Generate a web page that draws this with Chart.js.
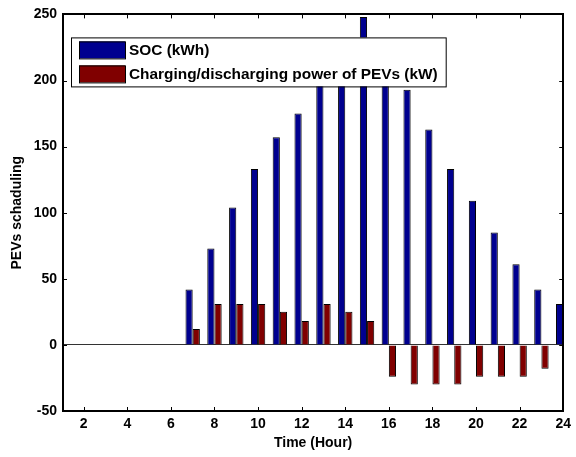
<!DOCTYPE html>
<html>
<head>
<meta charset="utf-8">
<script src="https://cdn.jsdelivr.net/npm/chart.js@4"></script>
<style>
    html, body { margin: 0; padding: 0; background: #ffffff; }
</style>
</head>
<body>
<canvas id="pevChart" width="576" height="457"></canvas>
<script>
    // hourly data
    const hours = [1, 2, 3, 4, 5, 6, 7, 8, 9, 10, 11, 12, 13, 14, 15, 16, 17, 18, 19, 20, 21, 22, 23, 24];
    const socValues = [0, 0, 0, 0, 0, 0, 42, 73, 104, 133, 157, 175, 206, 230, 248, 224, 193, 163, 133, 109, 85, 61, 42, 31];
    const powerValues = [0, 0, 0, 0, 0, 0, 12, 31, 31, 31, 25, 18, 31, 25, 18, -24, -30, -30, -30, -24, -24, -24, -18, -12];
    const seriesNames = ["SOC (kWh)", "Charging/discharging power of PEVs (kW)"];
    const xTicks = [2, 4, 6, 8, 10, 12, 14, 16, 18, 20, 22, 24];
    const yTicks = [-50, 0, 50, 100, 150, 200, 250];

    Chart.defaults.font.family = "'Liberation Sans', Arial, sans-serif";
    Chart.defaults.font.size = 14;
    Chart.defaults.font.weight = "bold";
    Chart.defaults.color = "#000000";

    // box round the plot, inward ticks and the legend inside the axes
    const framePlugin = {
        id: "framePlugin",
        afterDatasetsDraw(chart) {
            const ctx = chart.ctx;
            const a = chart.chartArea;
            const xs = chart.scales.x;
            const ys = chart.scales.y;
            ctx.save();
            ctx.strokeStyle = "#000000";
            ctx.lineWidth = 1;
            ctx.beginPath();
            xTicks.forEach(function (v) {
                const px = Math.round(xs.getPixelForValue(v)) + 0.5;
                ctx.moveTo(px, a.bottom);
                ctx.lineTo(px, a.bottom - 4);
                ctx.moveTo(px, a.top);
                ctx.lineTo(px, a.top + 4);
            });
            yTicks.forEach(function (v) {
                const py = Math.round(ys.getPixelForValue(v)) + 0.5;
                ctx.moveTo(a.left, py);
                ctx.lineTo(a.left + 4, py);
                ctx.moveTo(a.right, py);
                ctx.lineTo(a.right - 4, py);
            });
            ctx.stroke();

            ctx.lineWidth = 2;
            ctx.strokeRect(Math.round(a.left), Math.round(a.top), Math.round(a.right - a.left), Math.round(a.bottom - a.top));

            // legend
            ctx.font = "bold 15.4px 'Liberation Sans', Arial, sans-serif";
            let textW = 0;
            chart.data.datasets.forEach(function (ds) {
                textW = Math.max(textW, ctx.measureText(ds.label).width);
            });
            const bx = a.left + 8;
            const by = a.top + 23;
            const bw = 58 + textW + 8;
            const bh = 49;
            ctx.fillStyle = "#ffffff";
            ctx.fillRect(bx, by, bw, bh);
            ctx.lineWidth = 1;
            ctx.strokeRect(bx + 0.5, by + 0.5, bw, bh);
            chart.data.datasets.forEach(function (ds, i) {
                const sy = by + 4 + i * 24;
                ctx.fillStyle = ds.backgroundColor;
                ctx.fillRect(bx + 8, sy, 46, 17);
                ctx.strokeRect(bx + 8.5, sy + 0.5, 46, 17);
                ctx.fillStyle = "#000000";
                ctx.textBaseline = "middle";
                ctx.textAlign = "left";
                ctx.fillText(ds.label, bx + 58, sy + 9);
            });
            ctx.restore();
        }
    };

    new Chart(
        document.getElementById("pevChart"),
        {
            type: "bar",
            data: {
                datasets: [{
                    label: seriesNames[0],
                    data: hours.map(function (h, i) { return { x: h, y: socValues[i] }; }),
                    backgroundColor: "#00008f",
                    borderColor: "#000000",
                    borderWidth: 1,
                    categoryPercentage: 0.66,
                    barPercentage: 1.0,
                    clip: 0
                }, {
                    label: seriesNames[1],
                    data: hours.map(function (h, i) { return { x: h, y: powerValues[i] }; }),
                    backgroundColor: "#800000",
                    borderColor: "#000000",
                    borderWidth: 1,
                    categoryPercentage: 0.66,
                    barPercentage: 1.0,
                    clip: 0
                }]
            },
            options: {
                responsive: false,
                animation: false,
                layout: { padding: { top: 14, right: 9, left: 0, bottom: 0 } },
                plugins: {
                    legend: { display: false },
                    tooltip: { enabled: false }
                },
                scales: {
                    x: {
                        type: "linear",
                        min: 1.05,
                        max: 24,
                        offset: false,
                        afterBuildTicks: function (scale) {
                            scale.ticks = xTicks.map(function (v) { return { value: v }; });
                        },
                        afterFit: function (scale) { scale.height = 46; },
                        grid: { display: false, drawTicks: false },
                        border: { display: false },
                        ticks: { padding: 5, maxRotation: 0 },
                        title: {
                            display: true,
                            text: "Time (Hour)",
                            font: { size: 14, weight: "bold" },
                            padding: { top: 0, bottom: 5 }
                        }
                    },
                    y: {
                        min: -50,
                        max: 250,
                        afterBuildTicks: function (scale) {
                            scale.ticks = yTicks.map(function (v) { return { value: v }; });
                        },
                        afterFit: function (scale) { scale.width = 63; },
                        grid: {
                            drawTicks: false,
                            color: function (c) { return c.tick && c.tick.value === 0 ? "#333333" : "rgba(0,0,0,0)"; }
                        },
                        border: { display: false },
                        ticks: { padding: 6 },
                        title: {
                            display: true,
                            text: "PEVs schaduling",
                            font: { size: 14, weight: "bold" },
                            padding: { top: 9, bottom: 0 }
                        }
                    }
                }
            },
            plugins: [framePlugin]
        }
    );
</script>
</body>
</html>
